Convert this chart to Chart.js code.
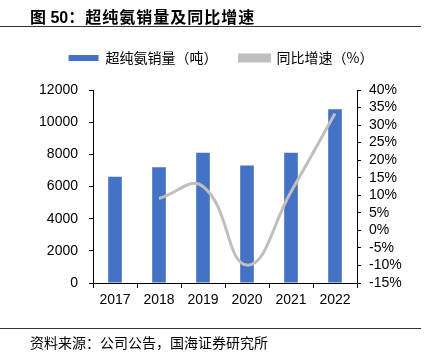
<!DOCTYPE html>
<html><head><meta charset="utf-8">
<script src="https://cdn.jsdelivr.net/npm/chart.js@4/dist/chart.umd.min.js"></script>
<style>
html,body{margin:0;padding:0;background:#fff;width:431px;height:357px;overflow:hidden;}
#wrap{position:relative;width:431px;height:357px;}
#title{position:absolute;left:30px;top:4px;font:bold 16px "Liberation Sans","Noto Sans CJK SC",sans-serif;color:#000;white-space:nowrap;}
#title .cn{font-family:"Noto Sans CJK SC",sans-serif;font-weight:bold;letter-spacing:1px;}
#l1{position:absolute;left:0;top:26px;width:421px;height:1px;background:#333;}
#l2{position:absolute;left:0;top:328px;width:421px;height:1px;background:#333;}
#src{position:absolute;left:30px;top:332px;font:14px "Noto Sans CJK SC",sans-serif;color:#000;white-space:nowrap;}
canvas{position:absolute;left:0;top:0;}
</style></head>
<body><div id="wrap">
<canvas id="c" width="431" height="357"></canvas>
<div id="title">图 50<span class="cn">：超纯氨销量及同比增速</span></div>
<div id="l1"></div>
<div id="src">资料来源：公司公告，国海证券研究所</div>
<div id="l2"></div>
</div>
<script>
const categories = ['2017','2018','2019','2020','2021','2022'];
const salesTons = [6600, 7200, 8100, 7300, 8100, 10800];
const yoyGrowth = [null, 9.1, 12.5, -9.9, 11.0, 33.3];
const seriesNames = ['超纯氨销量（吨）', '同比增速（%）'];

const font = {family: '"Liberation Sans", Arial, sans-serif', size: 14};
const cnFont = {family: '"Noto Sans CJK SC", sans-serif', size: 14};

const legendSpace = {
  id: 'legendSpace',
  beforeInit(chart) {
    const orig = chart.legend.fit;
    chart.legend.fit = function () { orig.call(this); this.height += 15; };
  }
};

new Chart(document.getElementById('c'), {
  type: 'bar',
  data: {
    labels: categories,
    datasets: [
      {type: 'bar', label: seriesNames[0], data: salesTons, backgroundColor: '#4472C4',
       borderWidth: 0, barPercentage: 0.62, categoryPercentage: 0.5, yAxisID: 'y', order: 1},
      {type: 'line', label: seriesNames[1], data: yoyGrowth, borderColor: '#BFBFBF',
       backgroundColor: '#BFBFBF', borderWidth: 3, pointRadius: 0, tension: 0.45,
       yAxisID: 'y1', order: 0}
    ]
  },
  options: {
    responsive: false, animation: false, devicePixelRatio: 1,
    layout: {padding: {top: 29, left: 11, right: 0, bottom: 0}},
    plugins: {
      tooltip: {enabled: false},
      legend: {
        position: 'top',
        labels: {
          font: cnFont, color: '#000', boxWidth: 30, boxHeight: 6, padding: 22,
          sort: (a, b) => a.datasetIndex - b.datasetIndex
        }
      }
    },
    scales: {
      x: {
        offset: true,
        grid: {display: true, drawOnChartArea: false, offset: true, tickLength: 5, color: '#000'},
        border: {display: true, color: '#000'},
        ticks: {font: font, color: '#000', padding: 4, maxRotation: 0, autoSkip: false},
        afterFit: s => { s.height = 74; }
      },
      y: {
        position: 'left', min: 0, max: 12000,
        ticks: {stepSize: 2000, font: font, color: '#000', padding: 11, autoSkip: false, callback: v => String(v)},
        grid: {drawOnChartArea: false, tickLength: 4, color: '#000'},
        border: {display: true, color: '#000'},
        afterFit: s => { s.width = 82; }
      },
      y1: {
        position: 'right', min: -15, max: 40,
        ticks: {stepSize: 5, font: font, color: '#000', padding: 8, autoSkip: false, callback: v => v + '%'},
        grid: {drawOnChartArea: false, tickLength: 4, color: '#000'},
        border: {display: true, color: '#000'},
        afterFit: s => { s.width = 74; }
      }
    }
  },
  plugins: [legendSpace]
});
</script>
</body></html>
